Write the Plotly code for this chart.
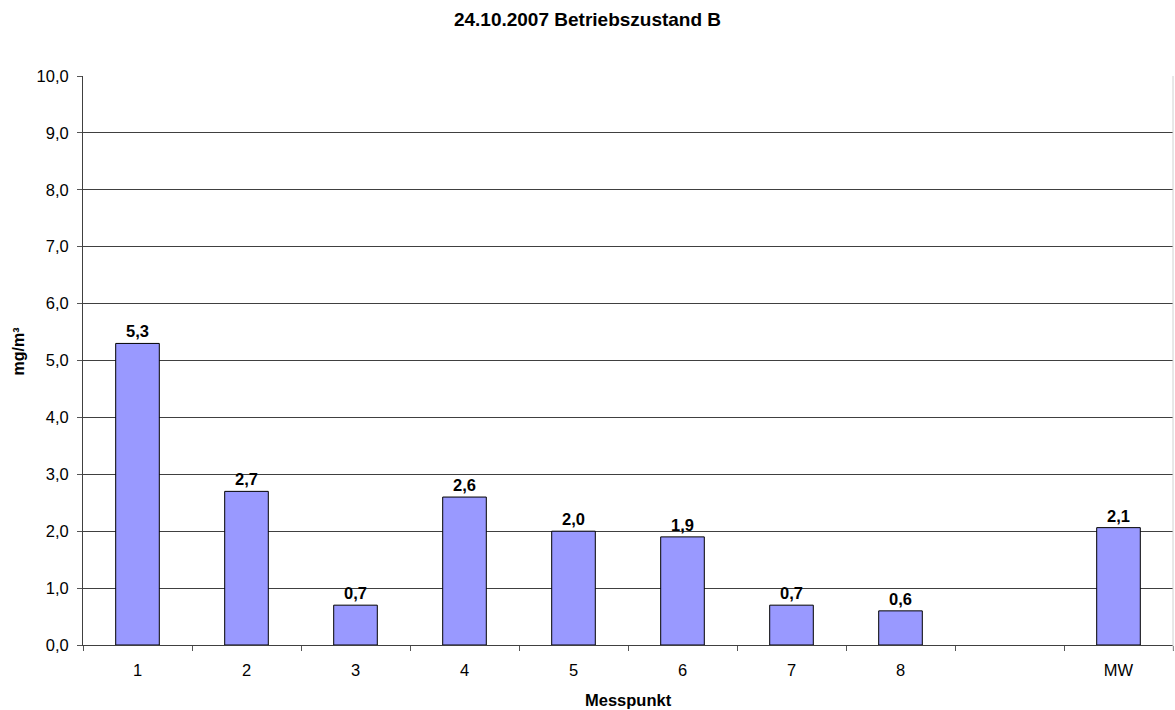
import plotly.graph_objects as go

# Measurement points, including a blank gap slot before the mean (MW)
categories = ["1", "2", "3", "4", "5", "6", "7", "8", " ", "MW"]
point_values = [5.3, 2.7, 0.7, 2.6, 2.0, 1.9, 0.7, 0.6]
mean_value = sum(point_values) / len(point_values)
values = point_values + [None, mean_value]

y_ticks = [0, 1, 2, 3, 4, 5, 6, 7, 8, 9, 10]

font_family = "Liberation Sans, Arial, sans-serif"
fig_height = 710
label_size = 16.5

fig = go.Figure()
fig.add_trace(go.Bar(
    x=categories,
    y=values,
    width=0.4,
    marker=dict(color="#9999FF", line=dict(color="#000000", width=1)),
    texttemplate="%{y:.1f}",
    textposition="outside",
    textfont=dict(family=font_family, size=label_size, color="#000000", weight="bold"),
    cliponaxis=False,
    hoverinfo="skip",
))

fig.update_layout(
    width=1175,
    height=fig_height,
    separators=",.",
    paper_bgcolor="#FFFFFF",
    plot_bgcolor="#FFFFFF",
    margin=dict(l=83, r=2, t=76, b=65),
    showlegend=False,
    font=dict(family=font_family, size=label_size, color="#000000"),
    title=dict(
        text="<b>24.10.2007 Betriebszustand B</b>",
        x=0.5, xref="container", xanchor="center",
        y=1 - 19 / fig_height, yref="container", yanchor="middle",
        font=dict(family=font_family, size=19, color="#000000"),
    ),
    annotations=[
        dict(
            text="<b>Messpunkt</b>",
            xref="paper", yref="paper", x=0.5, y=0,
            xanchor="center", yanchor="middle", yshift=-55,
            showarrow=False, font=dict(size=label_size),
        ),
        dict(
            text="<b>mg/m³</b>",
            xref="paper", yref="paper", x=0, y=0.5,
            xanchor="center", yanchor="middle", xshift=-65, yshift=9,
            textangle=-90, showarrow=False, font=dict(size=16),
        ),
    ],
    shapes=[
        dict(type="line", xref="paper", yref="paper", x0=1, x1=1, y0=-0.01, y1=1,
             line=dict(color="#D0D0D0", width=1)),
    ],
)

fig.update_xaxes(
    type="category",
    categoryorder="array",
    categoryarray=categories,
    tickson="boundaries",
    ticks="outside",
    ticklen=5,
    tickcolor="#555555",
    ticklabelstandoff=10,
    showline=True,
    linecolor="#404040",
    linewidth=1,
    showgrid=False,
    tickfont=dict(size=label_size),
)

fig.update_yaxes(
    range=[0, 10],
    tickvals=y_ticks,
    tickformat=".1f",
    ticks="outside",
    ticklen=5,
    tickcolor="#555555",
    ticklabelstandoff=5,
    showline=True,
    linecolor="#404040",
    linewidth=1,
    showgrid=True,
    gridcolor="#404040",
    gridwidth=1,
    zeroline=False,
    tickfont=dict(size=label_size),
)

fig.write_html("out.html")
